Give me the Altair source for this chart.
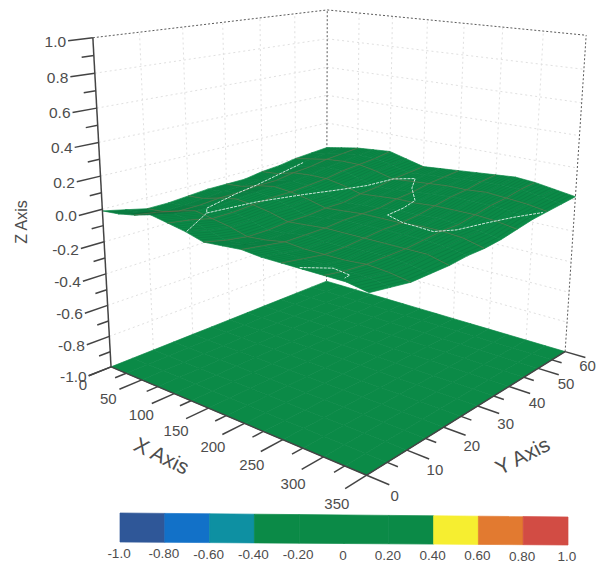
import numpy as np
import pandas as pd
import altair as alt

X_GRID = list(range(0, 351, 25))
Y_GRID = list(range(0, 61, 5))
# surface height, one row per Y_GRID value, one column per X_GRID value
Z_ROWS = [
 [-0.01,-0.00,0.02,0.05,0.03,0.01,-0.02,-0.01,0.00,-0.01,-0.01,-0.01,-0.01,-0.01,-0.03],
 [-0.04,-0.03,-0.00,0.02,0.01,-0.02,-0.05,-0.04,-0.02,-0.03,-0.03,-0.03,-0.03,-0.03,-0.05],
 [-0.07,-0.06,-0.03,-0.00,-0.02,-0.04,-0.07,-0.06,-0.04,-0.05,-0.05,-0.05,-0.04,-0.05,-0.07],
 [-0.07,-0.06,-0.03,-0.01,-0.02,-0.04,-0.07,-0.06,-0.04,-0.05,-0.05,-0.04,-0.04,-0.05,-0.07],
 [-0.06,-0.05,-0.02,0.00,-0.01,-0.03,-0.06,-0.05,-0.04,-0.04,-0.04,-0.04,-0.04,-0.04,-0.07],
 [-0.05,-0.04,-0.02,0.01,-0.00,-0.03,-0.06,-0.05,-0.03,-0.03,-0.03,-0.03,-0.03,-0.04,-0.06],
 [-0.05,-0.04,-0.01,0.01,0.00,-0.02,-0.05,-0.04,-0.03,-0.03,-0.03,-0.02,-0.02,-0.03,-0.06],
 [-0.05,-0.03,-0.01,0.01,0.01,-0.02,-0.05,-0.04,-0.03,-0.02,-0.02,-0.01,-0.02,-0.03,-0.05],
 [-0.03,-0.02,0.01,0.02,0.02,-0.00,-0.03,-0.02,-0.01,-0.01,-0.00,0.00,0.00,-0.01,-0.03],
 [-0.02,-0.00,0.02,0.04,0.04,0.01,-0.02,-0.01,0.00,0.01,0.02,0.02,0.02,0.01,-0.01],
 [-0.00,0.02,0.04,0.05,0.05,0.03,-0.00,0.01,0.02,0.03,0.03,0.04,0.03,0.02,-0.00],
 [0.01,0.03,0.05,0.06,0.06,0.04,0.01,0.02,0.03,0.04,0.05,0.05,0.05,0.03,0.01],
 [0.02,0.04,0.06,0.07,0.08,0.05,0.02,0.03,0.04,0.05,0.06,0.07,0.06,0.04,0.02],
]
CONTOURS = [
 [(86,11.0),(97,21.5),(113,30.8),(129,38.2),(141,43.9),(150,50.1),(173,51.9),(191,46.7),(220,41.0),(224,36.5),(224,32.0),(251,30.3),(272,29.5),(294,29.0),(308,32.5),(320,38.4),(333,43.2),(348,49.0)],
 [(125,0.3),(86,11.0),(75,12.8),(52,24.1),(44,30.8),(26,47.4)],
 [(270,0.4),(288,4.5),(312,3.5),(316,1.5)],
]
X_TICKS = list(range(0, 351, 25))
Y_TICKS = list(range(0, 61, 5))
Z_TICKS = [round(-1 + 0.1 * i, 1) for i in range(21)]
X_LABELS = [0, 50, 100, 150, 200, 250, 300, 350]
Y_LABELS = [0, 10, 20, 30, 40, 50, 60]
Z_LABELS = ["1.0", "0.8", "0.6", "0.4", "0.2", "0.0", "-0.2", "-0.4", "-0.6", "-0.8", "-1.0"]
BAND_EDGES = [-1.0, -0.8, -0.6, -0.4, -0.2, 0, 0.2, 0.4, 0.6, 0.8, 1.0]
BAND_TEXT = ["-1.0", "-0.80", "-0.60", "-0.40", "-0.20", "0", "0.20", "0.40", "0.60", "0.80", "1.0"]
THRESHOLDS = [-0.8, -0.6, -0.4, 0.4, 0.6, 0.8]
COLORS = ["#2F5798", "#1271C8", "#0E90A2", "#0B8A47", "#F6EE30", "#E27A30", "#D24C44"]

# camera, fitted to the box corners of the picture
ANCHORS = [((0,0,-1),(110,366)),((350,0,-1),(367,475)),((350,60,-1),(565,352)),((0,60,-1),(327,281)),
           ((0,0,1),(93,37)),((0,60,1),(327,10)),((350,60,1),(586,35)),((0,0,0),(103,211))]
rows = []
for (x, y, z), (u, v) in ANCHORS:
    p = [x/350, y/60, z, 1]
    rows.append(p + [0,0,0,0] + [-u*a for a in p])
    rows.append([0,0,0,0] + p + [-v*a for a in p])
M = np.linalg.svd(np.array(rows, float))[2][-1].reshape(3, 4)

def P(x, y, z):
    h = M @ np.array([x/350, y/60, z, 1.0])
    return float(h[0]/h[2]), float(h[1]/h[2])

Z = np.array(Z_ROWS)
def surf(x, y):
    fx = min(x/25, 13.999); fy = min(y/5, 11.999)
    i = int(fx); j = int(fy); s = fx-i; t = fy-j
    return float((1-s)*(1-t)*Z[j,i] + s*(1-t)*Z[j,i+1] + (1-s)*t*Z[j+1,i] + s*t*Z[j+1,i+1])

def seg(a, b):
    (x1, y1), (x2, y2) = P(*a), P(*b)
    return dict(x=x1, y=y1, x2=x2, y2=y2)

XS = alt.Scale(domain=[8, 597], nice=False, zero=False)
YS = alt.Scale(domain=[566, 8], nice=False, zero=False)
X = lambda f="x": alt.X(f + ":Q", scale=XS, axis=None)
Y = lambda f="y": alt.Y(f + ":Q", scale=YS, axis=None)
PROJ = dict(type="identity", scale=1, translate=[-8, -8])
COL = alt.Scale(type="threshold", domain=THRESHOLDS, range=COLORS)

def rules(items, **kw):
    return alt.Chart(pd.DataFrame(items)).mark_rule(**kw).encode(X(), Y(), x2="x2:Q", y2="y2:Q")

def lines(items, **kw):
    return alt.Chart(pd.DataFrame(items)).mark_line(**kw).encode(X(), Y(), detail="g:N", order="o:Q")

def texts(items, **kw):
    return alt.Chart(pd.DataFrame(items)).mark_text(**kw).encode(X(), Y(), text="t:N")

def cell(pts, z):
    ring = [list(p) for p in pts]
    ring.append(ring[0])
    return {"type": "Feature", "properties": {"z": z}, "geometry": {"type": "Polygon", "coordinates": [ring]}}

floor, top = [], []
for j in range(12):
    for i in range(14):
        c = [(X_GRID[i], Y_GRID[j]), (X_GRID[i+1], Y_GRID[j]), (X_GRID[i+1], Y_GRID[j+1]), (X_GRID[i], Y_GRID[j+1])]
        zv = [Z_ROWS[j][i], Z_ROWS[j][i+1], Z_ROWS[j+1][i+1], Z_ROWS[j+1][i]]
        m = sum(zv)/4
        floor.append(cell([P(a, b, -1) for a, b in c], m))
        top.append(cell([P(a, b, w) for (a, b), w in zip(c, zv)], m))

def polys(feats, sw=0.7):
    return (alt.Chart(alt.Data(values=feats)).mark_geoshape(strokeWidth=sw)
            .encode(fill=alt.Fill("properties.z:Q", scale=COL, legend=None),
                    stroke=alt.Stroke("properties.z:Q", scale=COL, legend=None))
            .project(**PROJ))

# back-wall grid
grid = []
for z in [-0.8, -0.6, -0.4, -0.2, 0, 0.2, 0.4, 0.6, 0.8]:
    grid.append(seg((0, 0, z), (0, 60, z)))
    grid.append(seg((0, 60, z), (350, 60, z)))
for y in [10, 20, 30, 40, 50]:
    grid.append(seg((0, y, -1), (0, y, 1)))
for x in [50, 100, 150, 200, 250, 300]:
    grid.append(seg((x, 60, -1), (x, 60, 1)))

frame = [seg((0,0,1),(0,60,1)), seg((0,60,1),(350,60,1)), seg((0,60,-1),(0,60,1)), seg((350,60,-1),(350,60,1))]

# surface line work
stripes, mesh = [], []
for k, x in enumerate(range(5, 350, 5)):
    for o, y in enumerate(Y_GRID):
        u, v = P(x, y, surf(x, y))
        stripes.append(dict(x=u, y=v, g=k, o=o))
for k, x in enumerate([50, 100, 150, 200, 250, 300]):
    for o, y in enumerate(Y_GRID):
        u, v = P(x, y, surf(x, y))
        mesh.append(dict(x=u, y=v, g=f"x{k}", o=o))
for k, y in enumerate([10, 20, 30, 40, 50]):
    for o, x in enumerate(X_GRID):
        u, v = P(x, y, surf(x, y))
        mesh.append(dict(x=u, y=v, g=f"y{k}", o=o))
cont = []
for k, c in enumerate(CONTOURS):
    for o, (x, y) in enumerate(c):
        u, v = P(x, y, surf(x, y))
        cont.append(dict(x=u, y=v, g=k, o=o))

# axes
axes = [seg((0,0,-1),(0,0,1)), seg((0,0,-1),(350,0,-1)), seg((350,0,-1),(350,60,-1))]
for z in Z_TICKS:
    axes.append(seg((0,0,z),(0,-5.0 if round(z*10)%2==0 else -2.5,z)))
for x in X_TICKS:
    axes.append(seg((x,0,-1),(x,-5.0 if x%50==0 else -2.5,-1)))
for y in Y_TICKS:
    axes.append(seg((350,y,-1),(375 if y%10==0 else 362,y,-1)))

zlab = []
for t in Z_LABELS:
    u, v = P(0, -5, float(t))
    zlab.append(dict(x=u-2, y=v+1, t=t))
xlab = []
for x in X_LABELS:
    u, v = P(x, 0, -1)
    xlab.append(dict(x=u-34+x*0.012 if x else u-28, y=v+18+0.03*x, t=str(x)))
ylab = []
for y in Y_LABELS:
    u, v = P(350, y, -1)
    # the last label is held just inside the drawing's right edge
    ylab.append(dict(x=min(u+28, 587.5), y=v+21-y*0.11, t=str(y)))

# colour bar
BAR = dict(x0=120, x1=568, top0=513, top1=517, bot0=542, bot1=545)
def bar_pt(val, edge):
    f = (val + 1) / 2
    u = BAR["x0"] + f*(BAR["x1"]-BAR["x0"])
    a, b = (BAR["top0"], BAR["top1"]) if edge == "top" else (BAR["bot0"], BAR["bot1"])
    return u, a + f*(b-a)
bar = []
for a, b in zip(BAND_EDGES[:-1], BAND_EDGES[1:]):
    bar.append(cell([bar_pt(a,"top"), bar_pt(b,"top"), bar_pt(b,"bot"), bar_pt(a,"bot")], (a+b)/2))
barlab = []
for val, t in zip(BAND_EDGES, BAND_TEXT):
    u, v = bar_pt(val, "bot")
    barlab.append(dict(x=u-1, y=v+12, t=t))

TXT = "#4d4d4d"
FONT = "Liberation Sans"
chart = alt.layer(
    rules(grid, color="#e0e0e0", strokeWidth=1, strokeDash=[2, 3]),
    rules(frame, color="#5a5a5a", strokeWidth=1, strokeDash=[2, 2]),
    polys(floor),
    polys(top),
    lines(stripes, color="#0a5c30", strokeWidth=1, opacity=0.22),
    lines(mesh, color="#8a6a50", strokeWidth=1, opacity=0.45),
    lines(cont, color="#cfe8dc", strokeWidth=1, strokeDash=[3, 1]),
    rules(axes, color="#444444", strokeWidth=1.5),
    texts(zlab, align="right", baseline="middle", font=FONT, fontSize=15.5, color=TXT),
    texts(xlab, align="center", baseline="middle", font=FONT, fontSize=15, color=TXT),
    texts(ylab, align="center", baseline="middle", font=FONT, fontSize=15, color=TXT),
    texts([dict(x=22, y=222, t="Z Axis")], angle=270, align="center", baseline="middle", font=FONT, fontSize=16, color=TXT),
    texts([dict(x=161, y=457, t="X Axis")], angle=26, align="center", baseline="middle", font=FONT, fontSize=21, color=TXT),
    texts([dict(x=523, y=457, t="Y Axis")], angle=333, align="center", baseline="middle", font=FONT, fontSize=21, color=TXT),
    polys(bar),
    texts(barlab, align="center", baseline="middle", font=FONT, fontSize=13.5, color=TXT),
).resolve_scale(fill="shared", stroke="shared").properties(
    width=589, height=558, padding=0, autosize=alt.AutoSizeParams(type="none"), background="white"
).configure_view(strokeWidth=0)

chart.save("out.html", embed_options={"renderer": "svg", "actions": False})
